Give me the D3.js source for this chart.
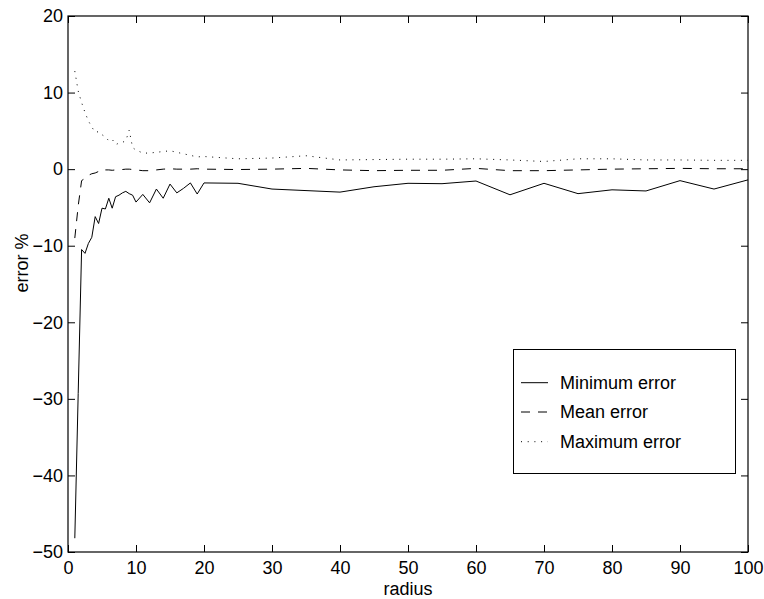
<!DOCTYPE html>
<html><head><meta charset="utf-8">
<script src="https://cdn.jsdelivr.net/npm/d3@7"></script>
<style>body{margin:0;background:#fff}svg{display:block}text{font-family:"Liberation Sans",Arial,Helvetica,sans-serif;fill:#000}</style>
</head><body>
<svg id="chart" width="764" height="599"></svg>
<script>
const radius = [1,1.5,2,2.5,3,3.5,4,4.5,5,5.5,6,6.5,7,7.5,8,8.5,9,9.5,10,11,12,13,14,15,16,17,18,19,20,25,30,35,40,45,50,55,60,65,70,75,80,85,90,95,100];
const minError = [-48.2,-29.3,-10.5,-11.0,-9.7,-8.9,-6.2,-7.1,-5.1,-5.2,-3.8,-5.1,-3.6,-3.4,-3.1,-2.9,-3.2,-3.4,-4.3,-3.3,-4.4,-2.6,-3.8,-1.95,-3.1,-2.5,-1.8,-3.25,-1.8,-1.85,-2.6,-2.8,-3.0,-2.3,-1.85,-1.9,-1.55,-3.35,-1.85,-3.2,-2.7,-2.85,-1.5,-2.6,-1.4];
const meanError = [-9.0,-4.8,-1.5,-1.2,-0.8,-0.6,-0.5,-0.3,0.0,-0.1,-0.1,-0.15,-0.1,-0.1,-0.05,0.0,0.0,-0.05,-0.1,-0.2,-0.2,-0.1,0.0,0.05,0.0,0.0,0.0,0.05,0.0,-0.05,0.0,0.1,-0.1,-0.2,-0.15,-0.15,0.1,-0.2,-0.2,-0.1,0.0,0.05,0.1,0.05,0.05];
const maxError = [12.8,10.2,8.7,7.4,6.3,5.5,4.8,4.9,4.5,4.2,3.7,3.9,3.2,3.4,3.5,3.7,5.1,2.8,2.5,2.1,2.1,2.2,2.3,2.4,2.2,2.0,1.8,1.6,1.65,1.35,1.45,1.75,1.2,1.25,1.3,1.3,1.35,1.2,1.0,1.35,1.35,1.2,1.2,1.15,1.15];
const xTicks = [0,10,20,30,40,50,60,70,80,90,100];
const yTicks = [-50,-40,-30,-20,-10,0,10,20];
const seriesNames = ["Minimum error","Mean error","Maximum error"];
const xLabel = "radius", yLabel = "error %";

const L = 68, R = 748, T = 16, B = 552;
const svg = d3.select("#chart");
const x = d3.scaleLinear().domain([0,100]).range([L,R]);
const y = d3.scaleLinear().domain([-50,20]).range([B,T]);
const fmt = d => (d < 0 ? "\u2212" + Math.abs(d) : String(d));

const styles = [null, "9,8", "1,5.7"];
const seriesData = [minError, meanError, maxError];
const line = d3.line().x(d => x(d[0])).y(d => y(d[1]));

const gPlot = svg.append("g");
seriesData.forEach((vals, i) => {
  gPlot.append("path")
    .datum(radius.map((r, k) => [r, vals[k]]))
    .attr("d", line)
    .attr("fill", "none")
    .attr("stroke", "#000")
    .attr("stroke-width", 1)
    .attr("stroke-dasharray", styles[i]);
});

// axes: bottom/top/left/right with inward ticks
const tk = 7;
svg.append("g").attr("transform", `translate(0,${B})`)
  .call(d3.axisBottom(x).tickValues(xTicks).tickSizeInner(-tk).tickSizeOuter(0).tickPadding(9).tickFormat(fmt));
svg.append("g").attr("transform", `translate(0,${T})`)
  .call(d3.axisTop(x).tickValues(xTicks).tickSizeInner(-tk).tickSizeOuter(0).tickFormat(""));
svg.append("g").attr("transform", `translate(${L},0)`)
  .call(d3.axisLeft(y).tickValues(yTicks).tickSizeInner(-tk).tickSizeOuter(0).tickPadding(5).tickFormat(fmt));
svg.append("g").attr("transform", `translate(${R},0)`)
  .call(d3.axisRight(y).tickValues(yTicks).tickSizeInner(-tk).tickSizeOuter(0).tickFormat(""));
svg.selectAll(".domain").remove();
svg.selectAll(".tick line").attr("stroke", "#000");
svg.selectAll(".tick text").attr("font-size", 18).attr("font-family", '"Liberation Sans",Arial,sans-serif');
svg.append("rect").attr("x", L).attr("y", T).attr("width", R - L).attr("height", B - T)
  .attr("fill", "none").attr("stroke", "#000").attr("stroke-width", 1.2);

// axis labels
svg.append("text").attr("x", (L + R) / 2).attr("y", 594.5).attr("text-anchor", "middle")
  .attr("font-size", 18).text(xLabel);
svg.append("text").attr("transform", `translate(28,263) rotate(-90)`).attr("text-anchor", "middle")
  .attr("font-size", 18).text(yLabel);

// legend
const lg = svg.append("g");
lg.append("rect").attr("x", 513.5).attr("y", 349.5).attr("width", 222).attr("height", 124)
  .attr("fill", "#fff").attr("stroke", "#000").attr("stroke-width", 1);
const rowY = [382.7, 412, 441.7];
seriesNames.forEach((name, i) => {
  lg.append("line").attr("x1", 521).attr("x2", 548).attr("y1", rowY[i]).attr("y2", rowY[i])
    .attr("stroke", "#000").attr("stroke-width", 1).attr("stroke-dasharray", styles[i]);
  lg.append("text").attr("x", 560).attr("y", rowY[i] + 6.4).attr("font-size", 18).text(name);
});
</script>
</body></html>
